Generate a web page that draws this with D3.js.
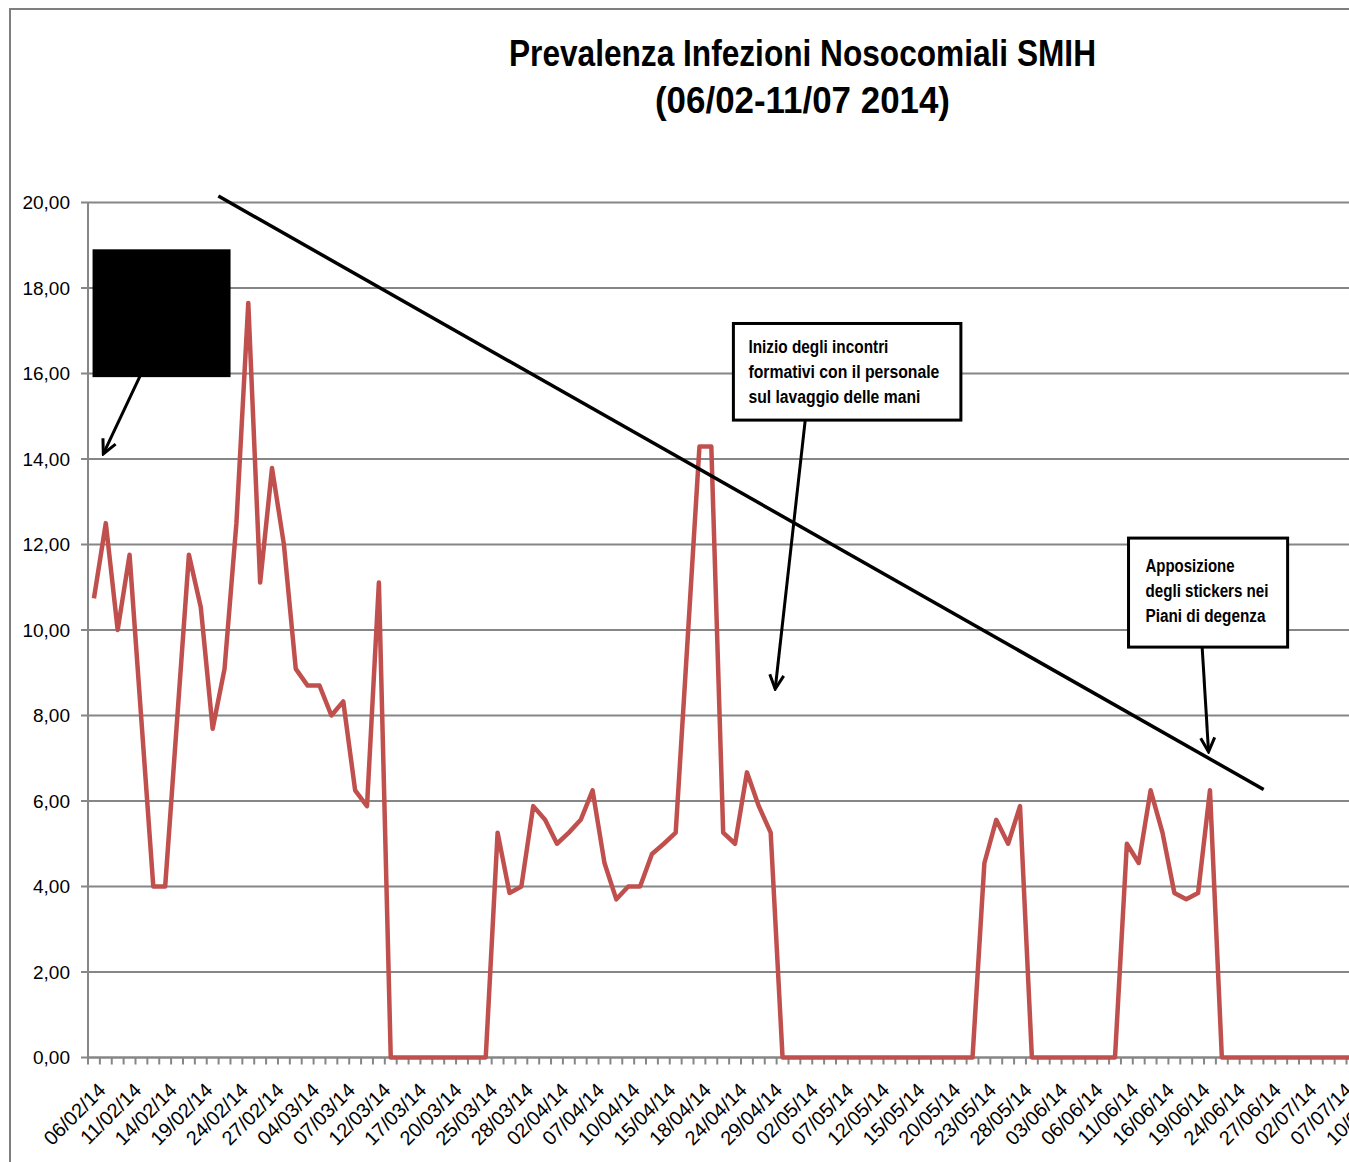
<!DOCTYPE html>
<meta charset="utf-8">
<style>
body { margin: 0; background: #fff; }
svg { display: block; font-family: "Liberation Sans", Arial, sans-serif; }
.grid line { stroke: #868686; stroke-width: 2; }
.axis-line { stroke: #868686; stroke-width: 2; }
.ylab { font-size: 19px; fill: #000; }
.xlab { font-size: 20px; fill: #000; }
.title { font-size: 36px; font-weight: bold; fill: #000; }
.note { font-size: 18px; font-weight: bold; fill: #000; }
</style>
<body>
<script src="https://d3js.org/d3.v7.min.js"></script>
<script>
// giorni di rilevazione (feriali)
var dates = [
  "06/02/14","07/02/14","10/02/14","11/02/14","12/02/14","13/02/14","14/02/14","17/02/14","18/02/14","19/02/14",
  "20/02/14","21/02/14","24/02/14","25/02/14","26/02/14","27/02/14","28/02/14","03/03/14","04/03/14","05/03/14",
  "06/03/14","07/03/14","10/03/14","11/03/14","12/03/14","13/03/14","14/03/14","17/03/14","18/03/14","19/03/14",
  "20/03/14","21/03/14","24/03/14","25/03/14","26/03/14","27/03/14","28/03/14","31/03/14","01/04/14","02/04/14",
  "03/04/14","04/04/14","07/04/14","08/04/14","09/04/14","10/04/14","11/04/14","14/04/14","15/04/14","16/04/14",
  "17/04/14","18/04/14","22/04/14","23/04/14","24/04/14","25/04/14","28/04/14","29/04/14","30/04/14","01/05/14",
  "02/05/14","05/05/14","06/05/14","07/05/14","08/05/14","09/05/14","12/05/14","13/05/14","14/05/14","15/05/14",
  "16/05/14","19/05/14","20/05/14","21/05/14","22/05/14","23/05/14","26/05/14","27/05/14","28/05/14","29/05/14",
  "30/05/14","03/06/14","04/06/14","05/06/14","06/06/14","09/06/14","10/06/14","11/06/14","12/06/14","13/06/14",
  "16/06/14","17/06/14","18/06/14","19/06/14","20/06/14","23/06/14","24/06/14","25/06/14","26/06/14","27/06/14",
  "30/06/14","01/07/14","02/07/14","03/07/14","04/07/14","07/07/14","08/07/14","09/07/14","10/07/14","11/07/14"
];

// prevalenza (%)
var prevalenza = [
  10.74, 12.50, 10.00, 11.76, 7.88, 4.00, 4.00, 7.88, 11.76, 10.53,
  7.69, 9.09, 12.50, 17.65, 11.11, 13.79, 12.00, 9.09, 8.70, 8.70,
  8.00, 8.33, 6.25, 5.88, 11.11, 0, 0, 0, 0, 0,
  0, 0, 0, 0, 5.26, 3.85, 4.00, 5.88, 5.56, 5.00,
  5.26, 5.56, 6.25, 4.55, 3.70, 4.00, 4.00, 4.76, 5.00, 5.26,
  9.76, 14.29, 14.29, 5.26, 5.00, 6.67, 5.88, 5.26, 0, 0,
  0, 0, 0, 0, 0, 0, 0, 0, 0, 0,
  0, 0, 0, 0, 0, 4.55, 5.56, 5.00, 5.88, 0,
  0, 0, 0, 0, 0, 0, 0, 5.00, 4.55, 6.25,
  5.26, 3.85, 3.70, 3.85, 6.25, 0, 0, 0, 0, 0,
  0, 0, 0, 0, 0, 0, 0, 0, 0, 0
];

var yTicks = [0, 2, 4, 6, 8, 10, 12, 14, 16, 18, 20];
var titleLines = ["Prevalenza Infezioni Nosocomiali SMIH", "(06/02-11/07 2014)"];

// note (in unita' del grafico: indice giorno, valore)
var trendLine = [[10.48, 20.15], [98.52, 6.27]];
var note1Text = ["Inizio degli incontri", "formativi con il personale", "sul lavaggio delle mani"];
var note2Text = ["Apposizione", "degli stickers nei", "Piani di degenza"];

var width = 1349,
    height = 1162;

var svg = d3.select("body").append("svg")
    .attr("width", width)
    .attr("height", height);

// il grafico originale continua oltre il bordo destro
var x = d3.scaleBand()
    .domain(dates)
    .range([88, 1394])
    .padding(0);
var y = d3.scaleLinear()
    .domain([0, 20])
    .range([1057.5, 202.5]);

function xc(d) { return x(d) + x.bandwidth() / 2; }
function xi(i) { return x(dates[0]) + (i + 0.5) * x.step(); }

var fmt = d3.formatLocale({decimal: ",", thousands: ".", grouping: [3], currency: ["", "€"]}).format(".2f");

// cornice
svg.append("rect")
    .attr("x", 10).attr("y", 9)
    .attr("width", 1600).attr("height", 1400)
    .attr("fill", "none")
    .attr("stroke", "#7f7f7f")
    .attr("stroke-width", 2);

// titolo
svg.selectAll(".title")
    .data(titleLines)
  .enter().append("text")
    .attr("class", "title")
    .attr("x", 802.5)
    .attr("y", function(d, i) { return 66 + i * 47; })
    .attr("text-anchor", "middle")
    .attr("textLength", function(d, i) { return i == 0 ? 587 : 295; })
    .attr("lengthAdjust", "spacingAndGlyphs")
    .text(function(d) { return d; });

// griglia
svg.append("g")
    .attr("class", "grid")
  .selectAll("line")
    .data(yTicks)
  .enter().append("line")
    .attr("x1", 81)
    .attr("x2", x.range()[1])
    .attr("y1", function(d) { return y(d); })
    .attr("y2", function(d) { return y(d); });

svg.selectAll(".ylab")
    .data(yTicks)
  .enter().append("text")
    .attr("class", "ylab")
    .attr("x", 70)
    .attr("y", function(d) { return y(d); })
    .attr("dy", "0.36em")
    .attr("text-anchor", "end")
    .text(function(d) { return fmt(d); });

// assi
svg.append("line")
    .attr("class", "axis-line")
    .attr("x1", 88).attr("x2", 88)
    .attr("y1", y(20)).attr("y2", y(0));

svg.append("line")
    .attr("class", "axis-line")
    .attr("x1", 88).attr("x2", x.range()[1])
    .attr("y1", y(0)).attr("y2", y(0));

svg.selectAll(".xtick")
    .data(dates.concat(["fine"]))
  .enter().append("line")
    .attr("class", "xtick")
    .attr("x1", function(d, i) { return x.range()[0] + i * x.step(); })
    .attr("x2", function(d, i) { return x.range()[0] + i * x.step(); })
    .attr("y1", y(0))
    .attr("y2", y(0) + 7)
    .attr("stroke", "#868686")
    .attr("stroke-width", 2);

svg.selectAll(".xlab")
    .data(dates.filter(function(d, i) { return i % 3 == 0; }))
  .enter().append("text")
    .attr("class", "xlab")
    .attr("text-anchor", "end")
    .attr("transform", function(d) { return "translate(" + (xc(d) + 13) + "," + (y(0) + 34) + ") rotate(-45)"; })
    .text(function(d) { return d; });

// serie
var line = d3.line()
    .x(function(d, i) { return xc(dates[i]); })
    .y(function(d) { return y(d); });

svg.append("path")
    .datum(prevalenza)
    .attr("d", line)
    .attr("fill", "none")
    .attr("stroke", "#c0504d")
    .attr("stroke-width", 4.5)
    .attr("stroke-linejoin", "round");

// frecce
svg.append("defs").append("marker")
    .attr("id", "freccia")
    .attr("viewBox", "-17 -9 19 18")
    .attr("refX", 0).attr("refY", 0)
    .attr("markerWidth", 19).attr("markerHeight", 18)
    .attr("markerUnits", "userSpaceOnUse")
    .attr("orient", "auto")
  .append("path")
    .attr("d", "M-14,-7L0,0L-14,7")
    .attr("fill", "none")
    .attr("stroke", "#000")
    .attr("stroke-width", 3);

// linea di tendenza disegnata a mano
svg.append("line")
    .attr("x1", xi(trendLine[0][0])).attr("y1", y(trendLine[0][1]))
    .attr("x2", xi(trendLine[1][0])).attr("y2", y(trendLine[1][1]))
    .attr("stroke", "#000")
    .attr("stroke-width", 3.5);

function arrow(a, b) {
  svg.append("line")
      .attr("x1", xi(a[0])).attr("y1", y(a[1]))
      .attr("x2", xi(b[0])).attr("y2", y(b[1]))
      .attr("stroke", "#000")
      .attr("stroke-width", 3)
      .attr("marker-end", "url(#freccia)");
}

function box(i0, v0, i1, v1, fill) {
  return svg.append("rect")
      .attr("x", xi(i0)).attr("y", y(v0))
      .attr("width", xi(i1) - xi(i0))
      .attr("height", y(v1) - y(v0))
      .attr("fill", fill)
      .attr("stroke", "#000")
      .attr("stroke-width", 3);
}

// riquadro oscurato
box(0.01, 18.87, 11.38, 15.95, "#000");
arrow([3.88, 15.94], [0.79, 14.12]);

// nota 1
arrow([59.91, 14.91], [57.38, 8.62]);
box(53.86, 17.17, 73.02, 14.91, "#fff");
var n1w = [140, 191, 172];
svg.selectAll(".note1")
    .data(note1Text)
  .enter().append("text")
    .attr("class", "note")
    .attr("x", xi(53.86) + 15)
    .attr("y", function(d, i) { return y(17.17) + 30 + i * 25; })
    .attr("textLength", function(d, i) { return n1w[i]; })
    .attr("lengthAdjust", "spacingAndGlyphs")
    .text(function(d) { return d; });

// nota 2
arrow([93.33, 9.65], [93.88, 7.15]);
box(87.14, 12.15, 100.54, 9.60, "#fff");
var n2w = [89, 123, 120];
svg.selectAll(".note2")
    .data(note2Text)
  .enter().append("text")
    .attr("class", "note")
    .attr("x", xi(87.14) + 17)
    .attr("y", function(d, i) { return y(12.15) + 34 + i * 25; })
    .attr("textLength", function(d, i) { return n2w[i]; })
    .attr("lengthAdjust", "spacingAndGlyphs")
    .text(function(d) { return d; });
</script>
